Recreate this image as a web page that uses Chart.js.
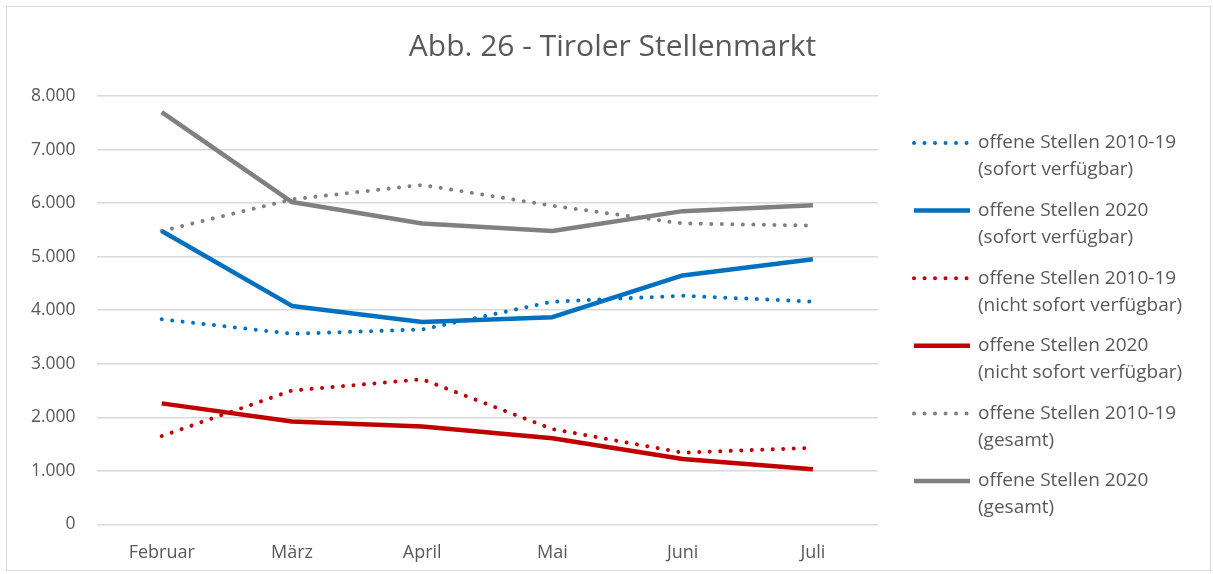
<!DOCTYPE html>
<html>
<head>
<meta charset="utf-8">
<script src="https://cdn.jsdelivr.net/npm/chart.js@4.4.1/dist/chart.umd.min.js"></script>
<style>
  html, body { margin: 0; padding: 0; background: #fff; }
  #wrap { position: relative; width: 1213px; height: 574px; }
  #frame { position: absolute; left: 6px; top: 6px; right: 2px; bottom: 3px; border: 1px solid #d9d9d9; pointer-events: none; }
</style>
</head>
<body>
<div id="wrap">
  <canvas id="myChart" width="1213" height="574"></canvas>
  <div id="frame"></div>
</div>
<script>
// Monate
const monate = ['Februar', 'März', 'April', 'Mai', 'Juni', 'Juli'];

// offene Stellen, sofort verfügbar
const sofort1019 = [3830, 3560, 3640, 4160, 4270, 4160];
const sofort2020 = [5480, 4080, 3780, 3870, 4650, 4950];
// nicht sofort verfügbar
const nichtSofort1019 = [1650, 2500, 2710, 1780, 1340, 1430];
const nichtSofort2020 = [2260, 1920, 1830, 1610, 1220, 1030];
// gesamt
const gesamt1019 = [5480, 6070, 6340, 5950, 5620, 5580];
const gesamt2020 = [7700, 6020, 5620, 5480, 5850, 5960];

const titel = 'Abb. 26 - Tiroler Stellenmarkt';
const legendLabels = [
  ['offene Stellen 2010-19', '(sofort verfügbar)'],
  ['offene Stellen 2020', '(sofort verfügbar)'],
  ['offene Stellen 2010-19', '(nicht sofort verfügbar)'],
  ['offene Stellen 2020', '(nicht sofort verfügbar)'],
  ['offene Stellen 2010-19', '(gesamt)'],
  ['offene Stellen 2020', '(gesamt)']
];

const BLAU = '#0070C0', ROT = '#C00000', GRAU = '#808080';
const FONT = "'Open Sans', 'Noto Sans', sans-serif";
const TXT = '#595959';

function linie(label, data, farbe, gepunktet) {
  return {
    label: label,
    data: data,
    borderColor: farbe,
    backgroundColor: farbe,
    borderWidth: gepunktet ? 4 : 4.5,
    borderDash: gepunktet ? [0.01, 10.5] : [],
    borderCapStyle: gepunktet ? 'round' : 'butt',
    borderJoinStyle: 'round',
    pointRadius: 0,
    tension: 0,
    fill: false
  };
}

// Titel mittig über der ganzen Fläche + eigene Legende rechts, zweizeilig
const titelUndLegende = {
  id: 'titelUndLegende',
  afterDraw(chart) {
    const c = chart.ctx;
    c.save();
    c.fillStyle = TXT;
    c.font = '30px ' + FONT;
    c.textAlign = 'center';
    c.textBaseline = 'middle';
    c.fillText(titel, chart.width / 2 + 6, 47);

    const x0 = chart.chartArea.right + 34;
    let y = 143;
    c.textAlign = 'left';
    chart.data.datasets.forEach((ds, i) => {
      c.strokeStyle = ds.borderColor;
      c.lineWidth = ds.borderWidth;
      c.lineCap = ds.borderCapStyle;
      c.setLineDash(ds.borderDash);
      c.beginPath();
      c.moveTo(x0 + 2, y);
      c.lineTo(x0 + 58, y);
      c.stroke();
      c.setLineDash([]);
      c.fillStyle = TXT;
      c.font = '19px ' + FONT;
      c.fillText(legendLabels[i][0], x0 + 66, y);
      c.fillText(legendLabels[i][1], x0 + 66, y + 27);
      y += 67.6;
    });
    c.restore();
  }
};

let ctx = document.getElementById('myChart').getContext('2d');
let myChart = new Chart(ctx, {
  type: 'line',
  data: {
    labels: monate,
    datasets: [
      linie(legendLabels[0].join(' '), sofort1019, BLAU, true),
      linie(legendLabels[1].join(' '), sofort2020, BLAU, false),
      linie(legendLabels[2].join(' '), nichtSofort1019, ROT, true),
      linie(legendLabels[3].join(' '), nichtSofort2020, ROT, false),
      linie(legendLabels[4].join(' '), gesamt1019, GRAU, true),
      linie(legendLabels[5].join(' '), gesamt2020, GRAU, false)
    ]
  },
  options: {
    responsive: false,
    animation: false,
    layout: { padding: { left: 10, right: 335, top: 96, bottom: 0 } },
    plugins: {
      legend: { display: false },
      tooltip: { enabled: false },
      title: { display: false }
    },
    scales: {
      x: {
        offset: true,
        grid: { display: false },
        border: { display: false },
        ticks: { color: TXT, font: { family: FONT, size: 18 }, padding: 10 }
      },
      y: {
        min: 0,
        max: 8000,
        border: { display: false },
        grid: { color: '#d9d9d9', lineWidth: 1.5, drawTicks: false },
        ticks: {
          stepSize: 1000,
          padding: 21,
          color: TXT,
          font: { family: FONT, size: 17.5 },
          callback: v => v.toLocaleString('de-DE')
        }
      }
    }
  },
  plugins: [titelUndLegende]
});
</script>
</body>
</html>
